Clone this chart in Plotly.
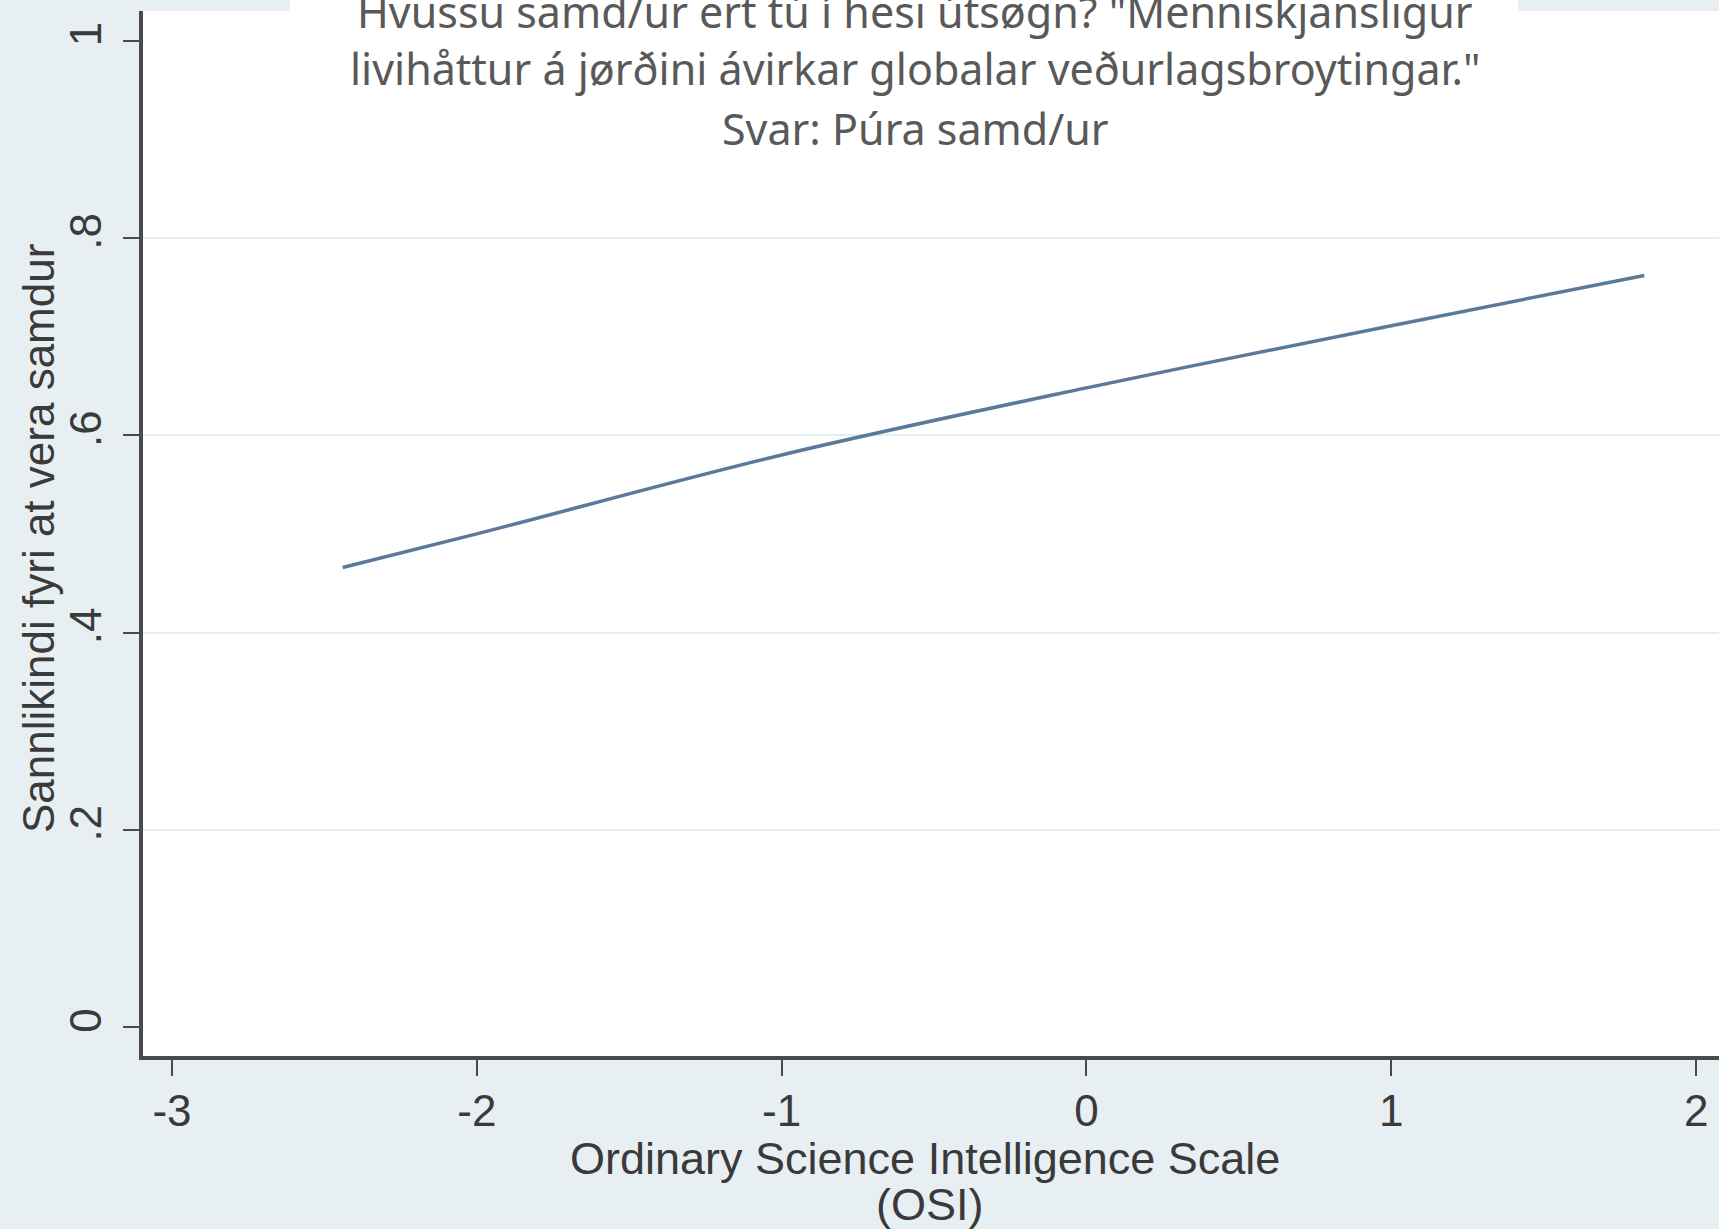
import plotly.graph_objects as go

# Data
osi = [-2.44, -2.0, -1.0, 0.0, 1.0, 1.83]
prob = [0.466, 0.500, 0.580, 0.648, 0.711, 0.762]

x_tickvals = [-3, -2, -1, 0, 1, 2]
x_ticktext = ["-3", "-2", "-1", "0", "1", "2"]
y_tickvals = [0, 0.2, 0.4, 0.6, 0.8, 1]
y_ticktext = ["0", ".2", ".4", ".6", ".8", "1"]
grid_vals = [0.2, 0.4, 0.6, 0.8]

title_lines = [
    "Hvussu samd/ur ert tú í hesi útsøgn? \"Menniskjansligur",
    "livihåttur á jørðini ávirkar globalar veðurlagsbroytingar.\"",
    "Svar: Púra samd/ur",
]
x_title = ["Ordinary Science Intelligence Scale", "(OSI)"]
y_title = "Sannlikindi fyri at vera samdur"

W, H = 1719, 1229
L, R, T, B = 143, 0, 11, 173
pw, ph = W - L - R, H - T - B

def px(xp):
    return (xp - L) / pw

def py(yp):
    return (H - B - yp) / ph

BG = "#e8eff2"
AX = "#4a4a4a"
TXT = "#3a3a3a"
axis_font = dict(family="Liberation Sans, Arial, sans-serif", size=44, color=TXT)
xtitle_font = dict(family="Liberation Sans, Arial, sans-serif", size=45, color=TXT)

fig = go.Figure()
fig.add_trace(go.Scatter(x=osi, y=prob, mode="lines",
                         line=dict(color="#5b7a99", width=3.5, shape="spline"),
                         showlegend=False, hoverinfo="skip"))

fig.update_layout(
    width=W, height=H,
    margin=dict(l=L, r=R, t=T, b=B, pad=0),
    paper_bgcolor=BG, plot_bgcolor="white",
    showlegend=False,
    xaxis=dict(range=[-3.095, 2.075], tickvals=x_tickvals, ticktext=x_ticktext,
               showgrid=False, zeroline=False, showline=True, linecolor=AX, linewidth=4,
               ticks="outside", ticklen=16, tickwidth=2, tickcolor=AX,
               tickfont=axis_font, ticklabelstandoff=-3),
    yaxis=dict(range=[-0.0292, 1.030], tickvals=y_tickvals, ticktext=y_ticktext,
               showgrid=False, zeroline=False, showline=True, linecolor=AX, linewidth=4,
               ticks="outside", ticklen=16, tickwidth=2, tickcolor=AX,
               tickangle=-90, tickfont=axis_font, ticklabelstandoff=4,
               minor=dict(tickmode="array", tickvals=grid_vals, showgrid=True,
                          gridcolor="#e6eef0", gridwidth=2, ticks="")),
)

# white title box overlapping the top band
fig.add_shape(type="rect", xref="paper", yref="paper",
              x0=px(290), x1=px(1518), y0=1.0, y1=py(-5),
              fillcolor="white", line=dict(width=0), layer="above")

title_font = dict(family="Noto Sans, Open Sans, sans-serif", size=43, color="#595959")
title_y = [11, 68, 129]
for txt, yy in zip(title_lines, title_y):
    fig.add_annotation(text=txt, xref="paper", yref="paper", x=px(915), y=py(yy),
                       xanchor="center", yanchor="middle", showarrow=False, font=title_font)

for txt, (xx, yy) in zip(x_title, [(925, 1158), (930, 1204)]):
    fig.add_annotation(text=txt, xref="paper", yref="paper", x=px(xx), y=py(yy),
                       xanchor="center", yanchor="middle", showarrow=False, font=xtitle_font)

fig.add_annotation(text=y_title, xref="paper", yref="paper", x=px(38), y=py(539),
                   xanchor="center", yanchor="middle", textangle=-90, showarrow=False,
                   font=axis_font)

fig.write_html("out.html", config={"displayModeBar": False},
               post_script="document.body.style.margin='0';document.body.style.overflow='hidden';")
